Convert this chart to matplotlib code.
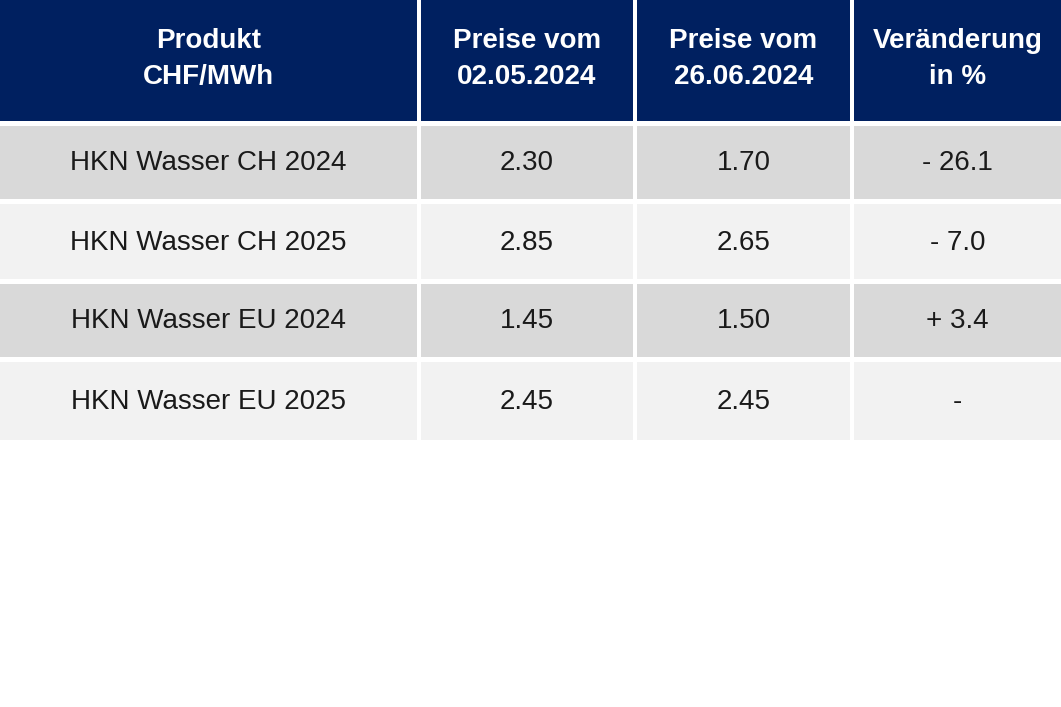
import matplotlib
matplotlib.use("Agg")
import matplotlib.pyplot as plt
from matplotlib.patches import Rectangle

headers = ["Produkt\nCHF/MWh", "Preise vom\n02.05.2024", "Preise vom\n26.06.2024", "Veränderung\nin %"]
products = ["HKN Wasser CH 2024", "HKN Wasser CH 2025", "HKN Wasser EU 2024", "HKN Wasser EU 2025"]
prices_0205 = ["2.30", "2.85", "1.45", "2.45"]
prices_2606 = ["1.70", "2.65", "1.50", "2.45"]
change_pct = ["- 26.1", "- 7.0", "+ 3.4", "-"]

fig = plt.figure(figsize=(10.61, 7.07), dpi=100)
ax = fig.add_axes([0, 0, 1, 1])
ax.set_xlim(0, 1061)
ax.set_ylim(707, 0)
ax.axis("off")

col_edges = [(0, 417), (421, 633), (637, 850), (854, 1061)]
header_y = (0, 121)
row_ys = [(126, 199), (204, 279), (284, 357), (362, 440)]
row_colors = ["#d9d9d9", "#f2f2f2", "#d9d9d9", "#f2f2f2"]
navy = "#002060"
font = "Liberation Sans"

for (x0, x1), h in zip(col_edges, headers):
    ax.add_patch(Rectangle((x0, header_y[0]), x1 - x0, header_y[1] - header_y[0], color=navy, lw=0))
    ax.text((x0 + x1) / 2, 59, h, color="white", ha="center", va="center",
            fontsize=20, fontweight="bold", family=font, linespacing=1.5)

rows = list(zip(products, prices_0205, prices_2606, change_pct))
for (y0, y1), color, row in zip(row_ys, row_colors, rows):
    for (x0, x1), val in zip(col_edges, row):
        ax.add_patch(Rectangle((x0, y0), x1 - x0, y1 - y0, color=color, lw=0))
        ax.text((x0 + x1) / 2, (y0 + y1) / 2 + 1, val, color="#1a1a1a", ha="center", va="center",
                fontsize=20, family=font)

fig.savefig("out.png", dpi=100)
